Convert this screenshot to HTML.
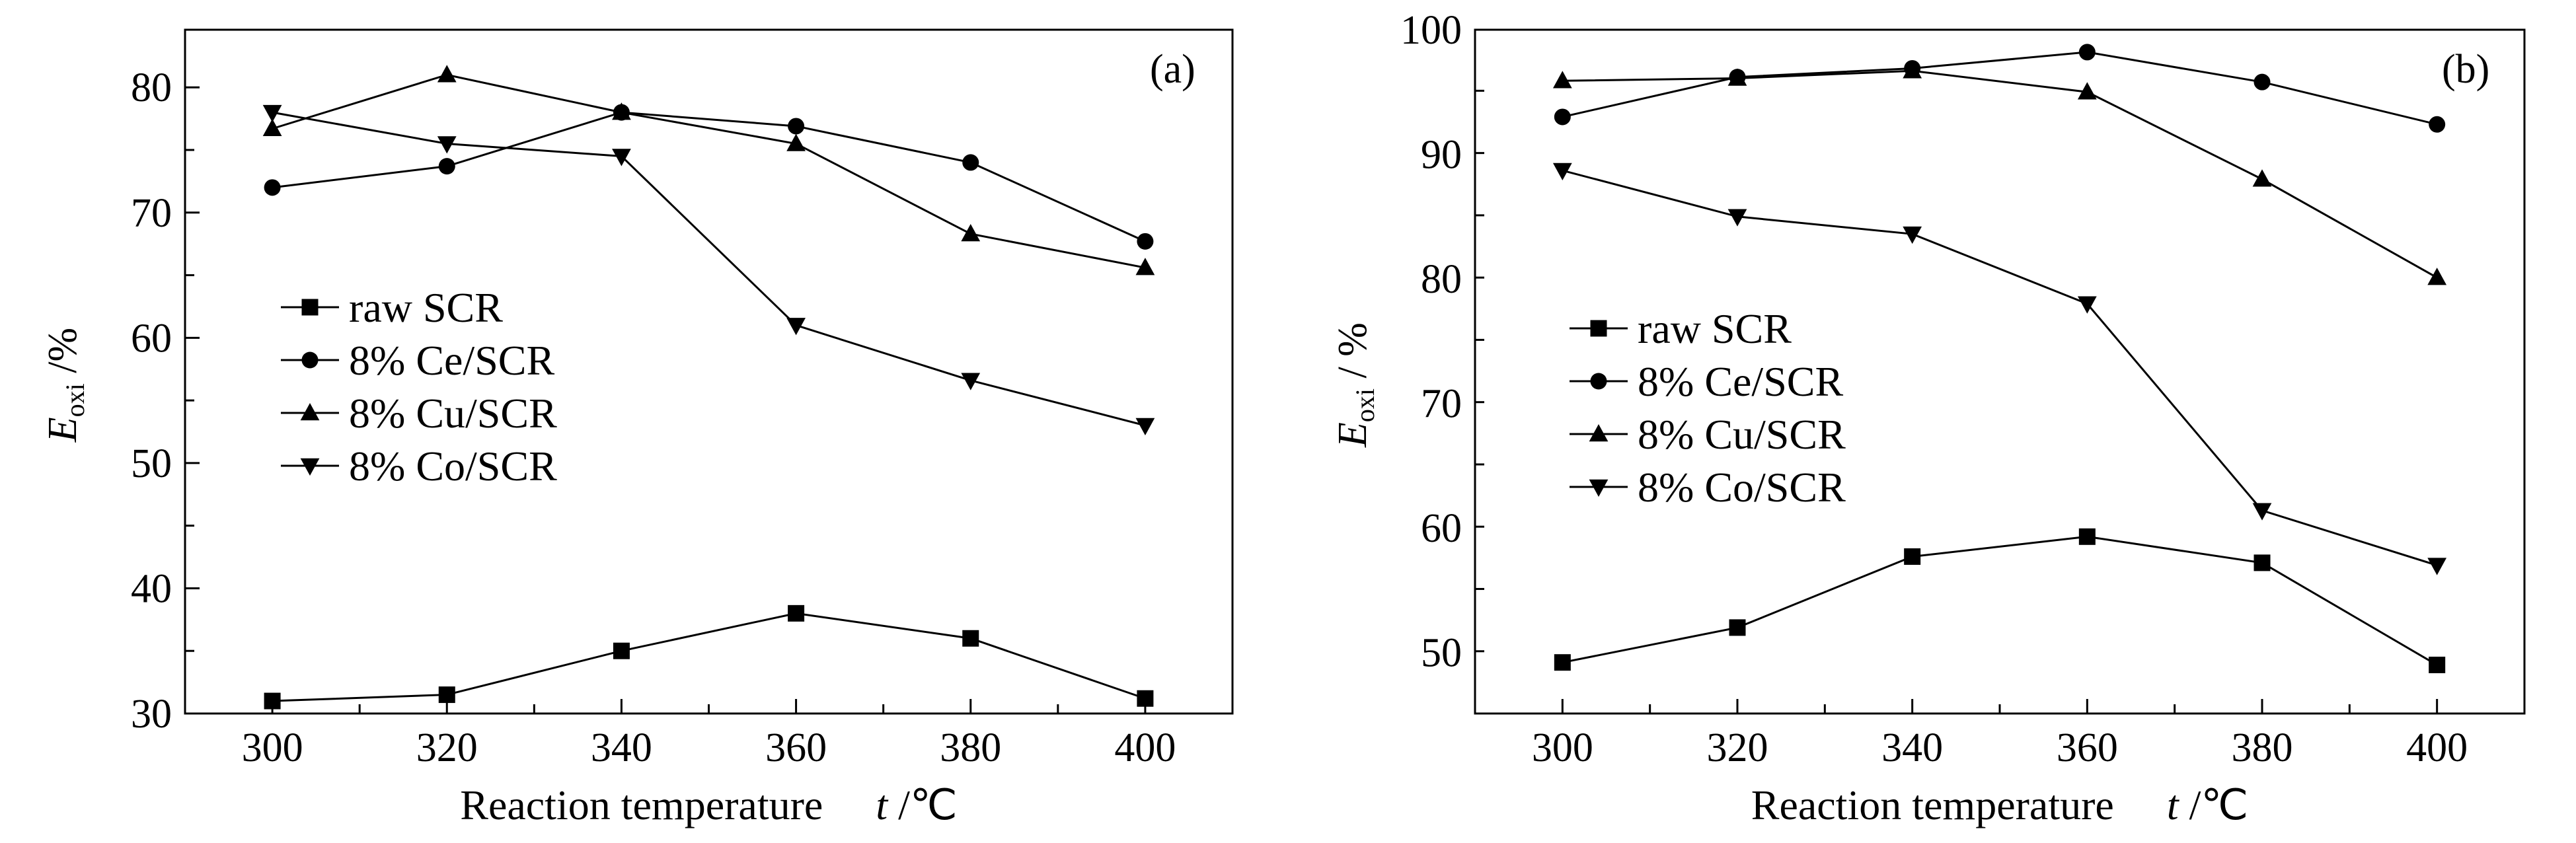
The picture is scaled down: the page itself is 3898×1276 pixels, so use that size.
<!DOCTYPE html>
<html><head><meta charset="utf-8"><style>
html,body{margin:0;padding:0;background:#fff}
svg{display:block}
text{font-family:"Liberation Serif","Times New Roman",serif;fill:#000}
</style></head><body>
<svg id="chart" width="3898" height="1276" viewBox="0 0 3898 1276" xmlns="http://www.w3.org/2000/svg"></svg>
<script>
const temps = [300, 320, 340, 360, 380, 400];
const seriesNames = ["raw SCR", "8% Ce/SCR", "8% Cu/SCR", "8% Co/SCR"];
const markers = ["square", "circle", "up", "down"];
const aRaw = [31, 31.5, 35, 38, 36, 31.2];
const aCe = [72, 73.7, 78, 76.9, 74, 67.7];
const aCu = [76.7, 81, 78, 75.5, 68.3, 65.6];
const aCo = [78, 75.5, 74.5, 61, 56.6, 53];
const bRaw = [49.2, 52, 57.7, 59.3, 57.2, 49];
const bCe = [93, 96.2, 96.9, 98.2, 95.8, 92.4];
const bCu = [95.9, 96.1, 96.7, 95, 88, 80.1];
const bCo = [88.7, 85, 83.6, 78, 61.4, 57];
const aYTicks = [30, 40, 50, 60, 70, 80];
const bYTicks = [50, 60, 70, 80, 90, 100];
const xTicks = [300, 320, 340, 360, 380, 400];

const NS = "http://www.w3.org/2000/svg";
const svg = document.getElementById("chart");
function el(tag, attrs, parent) {
  const e = document.createElementNS(NS, tag);
  for (const k in attrs) e.setAttribute(k, attrs[k]);
  (parent || svg).appendChild(e);
  return e;
}
function marker(g, type, x, y) {
  const s = 12.5;
  let m;
  if (type === "square") m = el("rect", {x: x - s, y: y - s, width: 2 * s, height: 2 * s, fill: "#000"}, g);
  else if (type === "circle") m = el("circle", {cx: x, cy: y, r: s, fill: "#000"}, g);
  else if (type === "up") m = el("polygon", {points: `${x},${y - s * 1.2} ${x - s * 1.15},${y + s * 0.9} ${x + s * 1.15},${y + s * 0.9}`, fill: "#000"}, g);
  else m = el("polygon", {points: `${x},${y + s * 1.2} ${x - s * 1.15},${y - s * 0.9} ${x + s * 1.15},${y - s * 0.9}`, fill: "#000"}, g);
  return m;
}
function panel(cfg) {
  const g = el("g", {});
  
  
  const L = cfg.left, R = cfg.right, T = 45, B = 1080;
  const xs = v => L + (v - 290) / 120 * (R - L);
  const ys = v => B - (v - cfg.ymin) / (cfg.ymax - cfg.ymin) * (B - T);
  const frame = el("rect", {x: L, y: T, width: R - L, height: B - T, fill: "none", stroke: "#000", "stroke-width": 3}, g);
  
  
  for (let v = 300; v <= 400; v += 10) {
    const major = v % 20 === 0;
    el("line", {x1: xs(v), x2: xs(v), y1: B, y2: B - (major ? 22 : 14), stroke: "#000", "stroke-width": 3}, g);
  }
  xTicks.forEach(v => {
    const t = el("text", {x: xs(v), y: 1152, "font-size": 62, "text-anchor": "middle"}, g);
    t.textContent = v;
    
    
  });
  for (let v = cfg.ymin; v <= cfg.ymax; v += 5) {
    const major = v % 10 === 0;
    el("line", {x1: L, x2: L + (major ? 22 : 14), y1: ys(v), y2: ys(v), stroke: "#000", "stroke-width": 3}, g);
  }
  cfg.yticks.forEach(v => {
    const t = el("text", {x: L - 20, y: ys(v) + 21, "font-size": 62, "text-anchor": "end"}, g);
    t.textContent = v;
    
    
  });
  const xt = el("text", {x: (L + R) / 2, y: 1240, "font-size": 64, "text-anchor": "middle"}, g);
  xt.innerHTML = 'Reaction temperature\u00a0\u00a0\u00a0\u00a0\u00a0<tspan font-style="italic">t</tspan> /\u2103';
  
  
  const yt = el("text", {transform: `translate(${L - 165},${(T + B) / 2 + 20}) rotate(-90)`, "font-size": 62, "text-anchor": "middle"}, g);
  yt.innerHTML = '<tspan font-style="italic">E</tspan><tspan font-size="40" dy="12">oxi</tspan><tspan dy="-12">' + cfg.yunit + '</tspan>';
  
  
  const lab = el("text", {x: R - 125, y: 125, "font-size": 62}, g);
  lab.textContent = cfg.label;
  
  
  cfg.data.forEach((arr, i) => {
    const sg = el("g", {}, g);
    
    
    const pts = arr.map((v, j) => xs(temps[j]) + "," + ys(v)).join(" ");
    el("polyline", {points: pts, fill: "none", stroke: "#000", "stroke-width": 3}, sg);
    arr.forEach((v, j) => {
      const m = marker(sg, markers[i], xs(temps[j]), ys(v));
      
      
    });
    const ly = cfg.legY + i * 80;
    const lg = el("g", {}, g);
    
    
    el("line", {x1: cfg.legX, x2: cfg.legX + 88, y1: ly, y2: ly, stroke: "#000", "stroke-width": 3}, lg);
    marker(lg, markers[i], cfg.legX + 44, ly);
    const tt = el("text", {x: cfg.legX + 103, y: ly + 22, "font-size": 64}, lg);
    tt.textContent = seriesNames[i];
  });
}
panel({name: "panel-a", left: 280, right: 1865, ymin: 30, ymax: 84.6, yticks: aYTicks, label: "(a)", yunit: " /%", data: [aRaw, aCe, aCu, aCo], legX: 425, legY: 465});
panel({name: "panel-b", left: 2232, right: 3820, ymin: 45.1, ymax: 100, yticks: bYTicks, label: "(b)", yunit: " / %", data: [bRaw, bCe, bCu, bCo], legX: 2375, legY: 497});
</script>
</body></html>
